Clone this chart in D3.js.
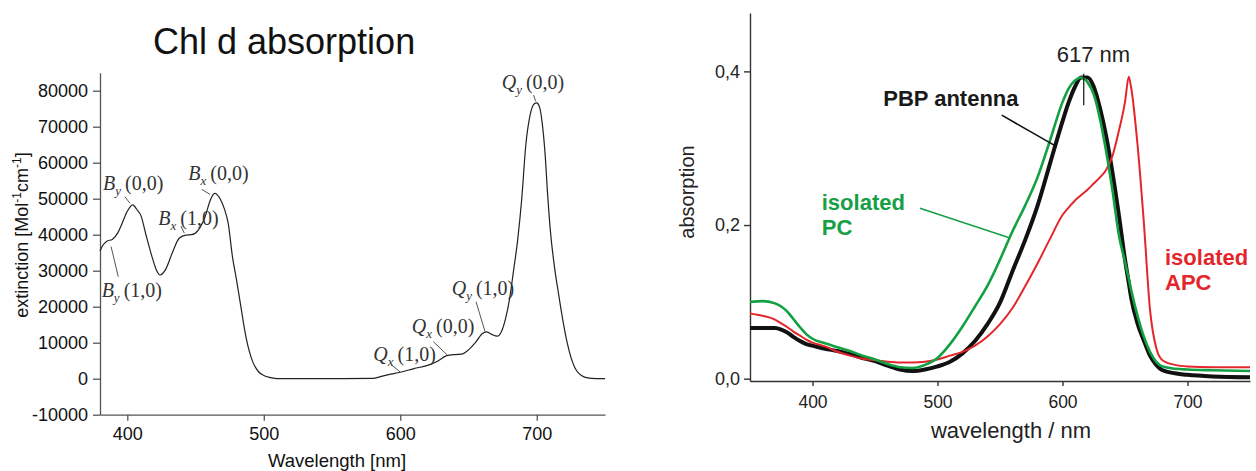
<!DOCTYPE html>
<html>
<head>
<meta charset="utf-8">
<script src="https://cdn.jsdelivr.net/npm/d3@7/dist/d3.min.js"></script>
<style>
  body { margin: 0; background: #fff; }
  svg { display: block; font-family: "Liberation Sans", Arial, sans-serif; }
</style>
</head>
<body>
<div id="chart"></div>
<script>
// left panel: Chl d extinction spectrum
const chlNm  = [380, 382, 385, 389, 393, 396, 400, 404, 407, 410, 414, 418, 421, 424, 428, 433, 438, 443, 447, 452, 457, 461, 464, 468, 471, 474, 477, 480, 483, 487, 492, 496, 500, 505, 510, 550, 580, 585, 590, 600, 610, 620, 628, 634, 640, 645, 650, 655, 660, 663, 667, 671, 674, 677, 680, 683, 686, 689, 692, 695, 698, 700, 702, 704, 706, 708, 710, 713, 716, 719, 722, 725, 728, 731, 735, 740, 750];
const chlExt = [35500, 37000, 38200, 38700, 40500, 43000, 46500, 48300, 47000, 45300, 39500, 34000, 30500, 28800, 30300, 35000, 39000, 39900, 40000, 41300, 45000, 49800, 51500, 50000, 47300, 43000, 34000, 27500, 20500, 11500, 4600, 2000, 900, 300, 0, 0, 100, 500, 1000, 1800, 2800, 3700, 5000, 6400, 6700, 6800, 8000, 10000, 12500, 13000, 12300, 11800, 13000, 16500, 22000, 30000, 38500, 50000, 65000, 73000, 76300, 76600, 75500, 71000, 63000, 51000, 41000, 31000, 23500, 16500, 10500, 6000, 3000, 1400, 450, 100, 0];
const chlTicksX = [400, 500, 600, 700];
const chlMinorX = [450, 550, 650, 750];
const chlTicksY = [-10000, 0, 10000, 20000, 30000, 40000, 50000, 60000, 70000, 80000];
const chlMinorY = [-5000, 5000, 15000, 25000, 35000, 45000, 55000, 65000, 75000, 85000];

// right panel: absorption of PBP antenna, isolated PC, isolated APC
const waveNm = [350, 360, 370, 375, 380, 385, 390, 395, 400, 410, 420, 430, 440, 450, 460, 470, 480, 490, 500, 510, 520, 530, 540, 550, 560, 570, 580, 590, 600, 605, 610, 615, 620, 625, 630, 635, 640, 645, 650, 653, 655, 660, 665, 670, 675, 680, 690, 700, 720, 750];
const pbpAbs = [0.066, 0.066, 0.066, 0.064, 0.060, 0.054, 0.049, 0.045, 0.043, 0.039, 0.036, 0.032, 0.027, 0.023, 0.017, 0.012, 0.010, 0.012, 0.016, 0.022, 0.033, 0.049, 0.071, 0.099, 0.140, 0.180, 0.225, 0.280, 0.335, 0.360, 0.380, 0.392, 0.392, 0.380, 0.352, 0.315, 0.268, 0.214, 0.155, 0.125, 0.105, 0.072, 0.050, 0.030, 0.018, 0.011, 0.007, 0.005, 0.003, 0.002];
const pcAbs  = [0.100, 0.101, 0.098, 0.094, 0.087, 0.077, 0.067, 0.058, 0.052, 0.046, 0.041, 0.036, 0.030, 0.025, 0.019, 0.015, 0.014, 0.018, 0.027, 0.045, 0.068, 0.094, 0.121, 0.155, 0.192, 0.225, 0.262, 0.310, 0.360, 0.378, 0.388, 0.392, 0.386, 0.370, 0.338, 0.295, 0.245, 0.188, 0.152, 0.130, 0.115, 0.082, 0.055, 0.035, 0.022, 0.016, 0.013, 0.012, 0.011, 0.010];
const apcAbs = [0.085, 0.082, 0.077, 0.072, 0.067, 0.061, 0.056, 0.051, 0.047, 0.042, 0.035, 0.030, 0.026, 0.024, 0.022, 0.021, 0.021, 0.022, 0.025, 0.030, 0.035, 0.043, 0.055, 0.071, 0.092, 0.120, 0.150, 0.182, 0.213, 0.223, 0.232, 0.239, 0.246, 0.254, 0.262, 0.272, 0.290, 0.322, 0.360, 0.393, 0.378, 0.305, 0.205, 0.090, 0.040, 0.024, 0.018, 0.016, 0.015, 0.015];
const absTicksX = [400, 500, 600, 700];
const absMinorX = [350, 450, 550, 650, 750];
const absTicksY = [0, 0.2, 0.4];
const absMinorY = [0.1, 0.3];

function init() {
    let svg = d3.select("#chart").append("svg")
        .attr("width", 1256)
        .attr("height", 471);

    // ---------- left panel ----------
    let xL = d3.scaleLinear().domain([380, 750]).range([100, 605]);
    let yL = d3.scaleLinear().domain([-10000, 85000]).range([414.7, 72.7]);
    let axisColor = "#555";

    svg.append("text")
        .attr("x", 153).attr("y", 54)
        .attr("font-size", 36)
        .attr("fill", "#111")
        .text("Chl d absorption");

    let gyL = svg.append("g").attr("transform", "translate(100,0)");
    gyL.call(d3.axisLeft(yL).tickValues(chlMinorY).tickSize(4).tickSizeOuter(0).tickFormat(""));
    gyL.call(d3.axisLeft(yL).tickValues(chlTicksY).tickSize(7).tickSizeOuter(0).tickPadding(5).tickFormat(d => String(d)));
    gyL.selectAll("path, line").attr("stroke", axisColor).attr("stroke-width", 1.3);
    gyL.selectAll("text").attr("font-size", 18).attr("fill", "#111")
        .attr("font-family", "Liberation Sans, Arial, sans-serif");

    let gxL = svg.append("g").attr("transform", "translate(0,414.7)");
    gxL.call(d3.axisBottom(xL).tickValues(chlMinorX).tickSize(4).tickSizeOuter(0).tickFormat(""));
    gxL.call(d3.axisBottom(xL).tickValues(chlTicksX).tickSize(6).tickSizeOuter(0).tickPadding(7));
    gxL.selectAll("path, line").attr("stroke", axisColor).attr("stroke-width", 1.3);
    gxL.selectAll("text").attr("font-size", 18).attr("fill", "#111")
        .attr("font-family", "Liberation Sans, Arial, sans-serif");

    svg.append("text")
        .attr("x", 337).attr("y", 467)
        .attr("text-anchor", "middle")
        .attr("font-size", 18.5)
        .attr("fill", "#111")
        .text("Wavelength [nm]");

    let ylab = svg.append("text")
        .attr("transform", "translate(28,235) rotate(-90)")
        .attr("text-anchor", "middle")
        .attr("font-size", 18)
        .attr("fill", "#111");
    ylab.append("tspan").text("extinction [Mol");
    ylab.append("tspan").attr("font-size", 12).attr("dy", -7).text("-1");
    ylab.append("tspan").attr("dy", 7).text("cm");
    ylab.append("tspan").attr("font-size", 12).attr("dy", -7).text("-1");
    ylab.append("tspan").attr("dy", 7).text("]");

    let chlLine = d3.line()
        .x((d, i) => xL(chlNm[i]))
        .y(d => yL(d))
        .curve(d3.curveMonotoneX);
    svg.append("path")
        .datum(chlExt)
        .attr("d", chlLine)
        .attr("fill", "none")
        .attr("stroke", "#222")
        .attr("stroke-width", 1.2);

    // band labels, anchored in data units
    let bands = [
        {s: "B", sub: "y", v: "(0,0)", tx: 382.2, ty: 52400, x1: 398.3, y1: 50550, x2: 402, y2: 48700},
        {s: "B", sub: "x", v: "(0,0)", tx: 444.7, ty: 55200, x1: 454.5, y1: 52600, x2: 460.6, y2: 51200},
        {s: "B", sub: "x", v: "(1,0)", tx: 422.7, ty: 42700, x1: 439.3, y1: 42400, x2: 441.8, y2: 40400},
        {s: "B", sub: "y", v: "(1,0)", tx: 381.2, ty: 22700, x1: 388.1, y1: 36700, x2: 393.4, y2: 28300},
        {s: "Q", sub: "y", v: "(0,0)", tx: 674.3, ty: 80500, x1: 697.7, y1: 78800, x2: 699.2, y2: 77100},
        {s: "Q", sub: "y", v: "(1,0)", tx: 637.7, ty: 23300, x1: 655.5, y1: 21400, x2: 662.1, y2: 13100},
        {s: "Q", sub: "x", v: "(0,0)", tx: 608.4, ty: 12700, x1: 624.2, y1: 10300, x2: 634.4, y2: 6600},
        {s: "Q", sub: "x", v: "(1,0)", tx: 580.2, ty: 4900, x1: 593.7, y1: 3800, x2: 599.8, y2: 1900}
    ];
    bands.forEach(b => {
        svg.append("line")
            .attr("x1", xL(b.x1)).attr("y1", yL(b.y1))
            .attr("x2", xL(b.x2)).attr("y2", yL(b.y2))
            .attr("stroke", "#555").attr("stroke-width", 1);
        let t = svg.append("text")
            .attr("x", xL(b.tx)).attr("y", yL(b.ty))
            .attr("font-family", "Liberation Serif, Times New Roman, serif")
            .attr("font-size", 20)
            .attr("fill", "#333");
        t.append("tspan").attr("font-style", "italic").text(b.s);
        t.append("tspan").attr("font-style", "italic").attr("font-size", 13).attr("dy", 5).text(b.sub);
        t.append("tspan").attr("dy", -5).attr("dx", 4).text(b.v);
    });

    // ---------- right panel ----------
    let xR = d3.scaleLinear().domain([350, 750]).range([750, 1250]);
    let yR = d3.scaleLinear().domain([-0.003, 0.476]).range([381, 13]);
    let comma = d => d3.format(".1f")(d).replace(".", ",");

    let gyR = svg.append("g").attr("transform", "translate(750,0)");
    gyR.call(d3.axisLeft(yR).tickValues(absMinorY).tickSize(3).tickSizeOuter(0).tickFormat(""));
    gyR.call(d3.axisLeft(yR).tickValues(absTicksY).tickSize(6).tickSizeOuter(0).tickPadding(4).tickFormat(comma));
    gyR.selectAll("path, line").attr("stroke", "#333").attr("stroke-width", 1.4);
    gyR.selectAll("text").attr("font-size", 18).attr("fill", "#222")
        .attr("font-family", "Liberation Sans, Arial, sans-serif");

    let gxR = svg.append("g").attr("transform", "translate(0,381)");
    gxR.call(d3.axisBottom(xR).tickValues(absMinorX).tickSize(4).tickSizeOuter(0).tickFormat(""));
    gxR.call(d3.axisBottom(xR).tickValues(absTicksX).tickSize(5).tickSizeOuter(0).tickPadding(10));
    gxR.selectAll("path, line").attr("stroke", "#333").attr("stroke-width", 1.4);
    gxR.selectAll("text").attr("font-size", 17.5).attr("fill", "#222")
        .attr("font-family", "Liberation Sans, Arial, sans-serif");

    svg.append("text")
        .attr("x", 1011).attr("y", 438)
        .attr("text-anchor", "middle")
        .attr("font-size", 22)
        .attr("fill", "#222")
        .text("wavelength / nm");

    svg.append("text")
        .attr("transform", "translate(694,192) rotate(-90)")
        .attr("text-anchor", "middle")
        .attr("font-size", 20)
        .attr("fill", "#222")
        .text("absorption");

    let absLine = d3.line()
        .x((d, i) => xR(waveNm[i]))
        .y(d => yR(d))
        .curve(d3.curveMonotoneX);

    let series = [
        {vals: pbpAbs, color: "#111", w: 4},
        {vals: apcAbs, color: "#e3262b", w: 2},
        {vals: pcAbs, color: "#13a043", w: 2.6}
    ];
    svg.selectAll(".spec")
        .data(series)
        .join("path")
        .attr("class", "spec")
        .attr("d", d => absLine(d.vals))
        .attr("fill", "none")
        .attr("stroke", d => d.color)
        .attr("stroke-width", d => d.w)
        .attr("stroke-linejoin", "round");

    // 617 nm marker
    svg.append("line")
        .attr("x1", xR(617)).attr("x2", xR(617))
        .attr("y1", yR(0.397)).attr("y2", yR(0.356))
        .attr("stroke", "#111").attr("stroke-width", 1.2);
    svg.append("text")
        .attr("x", xR(595.4)).attr("y", yR(0.412))
        .attr("font-size", 22)
        .attr("fill", "#222")
        .text("617 nm");

    // series labels
    svg.append("text")
        .attr("x", xR(456.6)).attr("y", yR(0.355))
        .attr("font-size", 22).attr("font-weight", "bold").attr("fill", "#1a1a1a")
        .text("PBP antenna");
    svg.append("line")
        .attr("x1", xR(551.4)).attr("y1", yR(0.343))
        .attr("x2", xR(595.4)).attr("y2", yR(0.302))
        .attr("stroke", "#111").attr("stroke-width", 1.6);

    let pcLab = svg.append("text")
        .attr("font-size", 22).attr("font-weight", "bold").attr("fill", "#16a045");
    pcLab.append("tspan").attr("x", xR(407.4)).attr("y", yR(0.22)).text("isolated");
    pcLab.append("tspan").attr("x", xR(407.4)).attr("y", yR(0.187)).text("PC");
    svg.append("line")
        .attr("x1", xR(486)).attr("y1", yR(0.222))
        .attr("x2", xR(558)).attr("y2", yR(0.183))
        .attr("stroke", "#16a045").attr("stroke-width", 1.6);

    let apcLab = svg.append("text")
        .attr("font-size", 22).attr("font-weight", "bold").attr("fill", "#e3262b");
    apcLab.append("tspan").attr("x", xR(682)).attr("y", yR(0.148)).text("isolated");
    apcLab.append("tspan").attr("x", xR(682)).attr("y", yR(0.116)).text("APC");
}
window.onload = init;
</script>
</body>
</html>
